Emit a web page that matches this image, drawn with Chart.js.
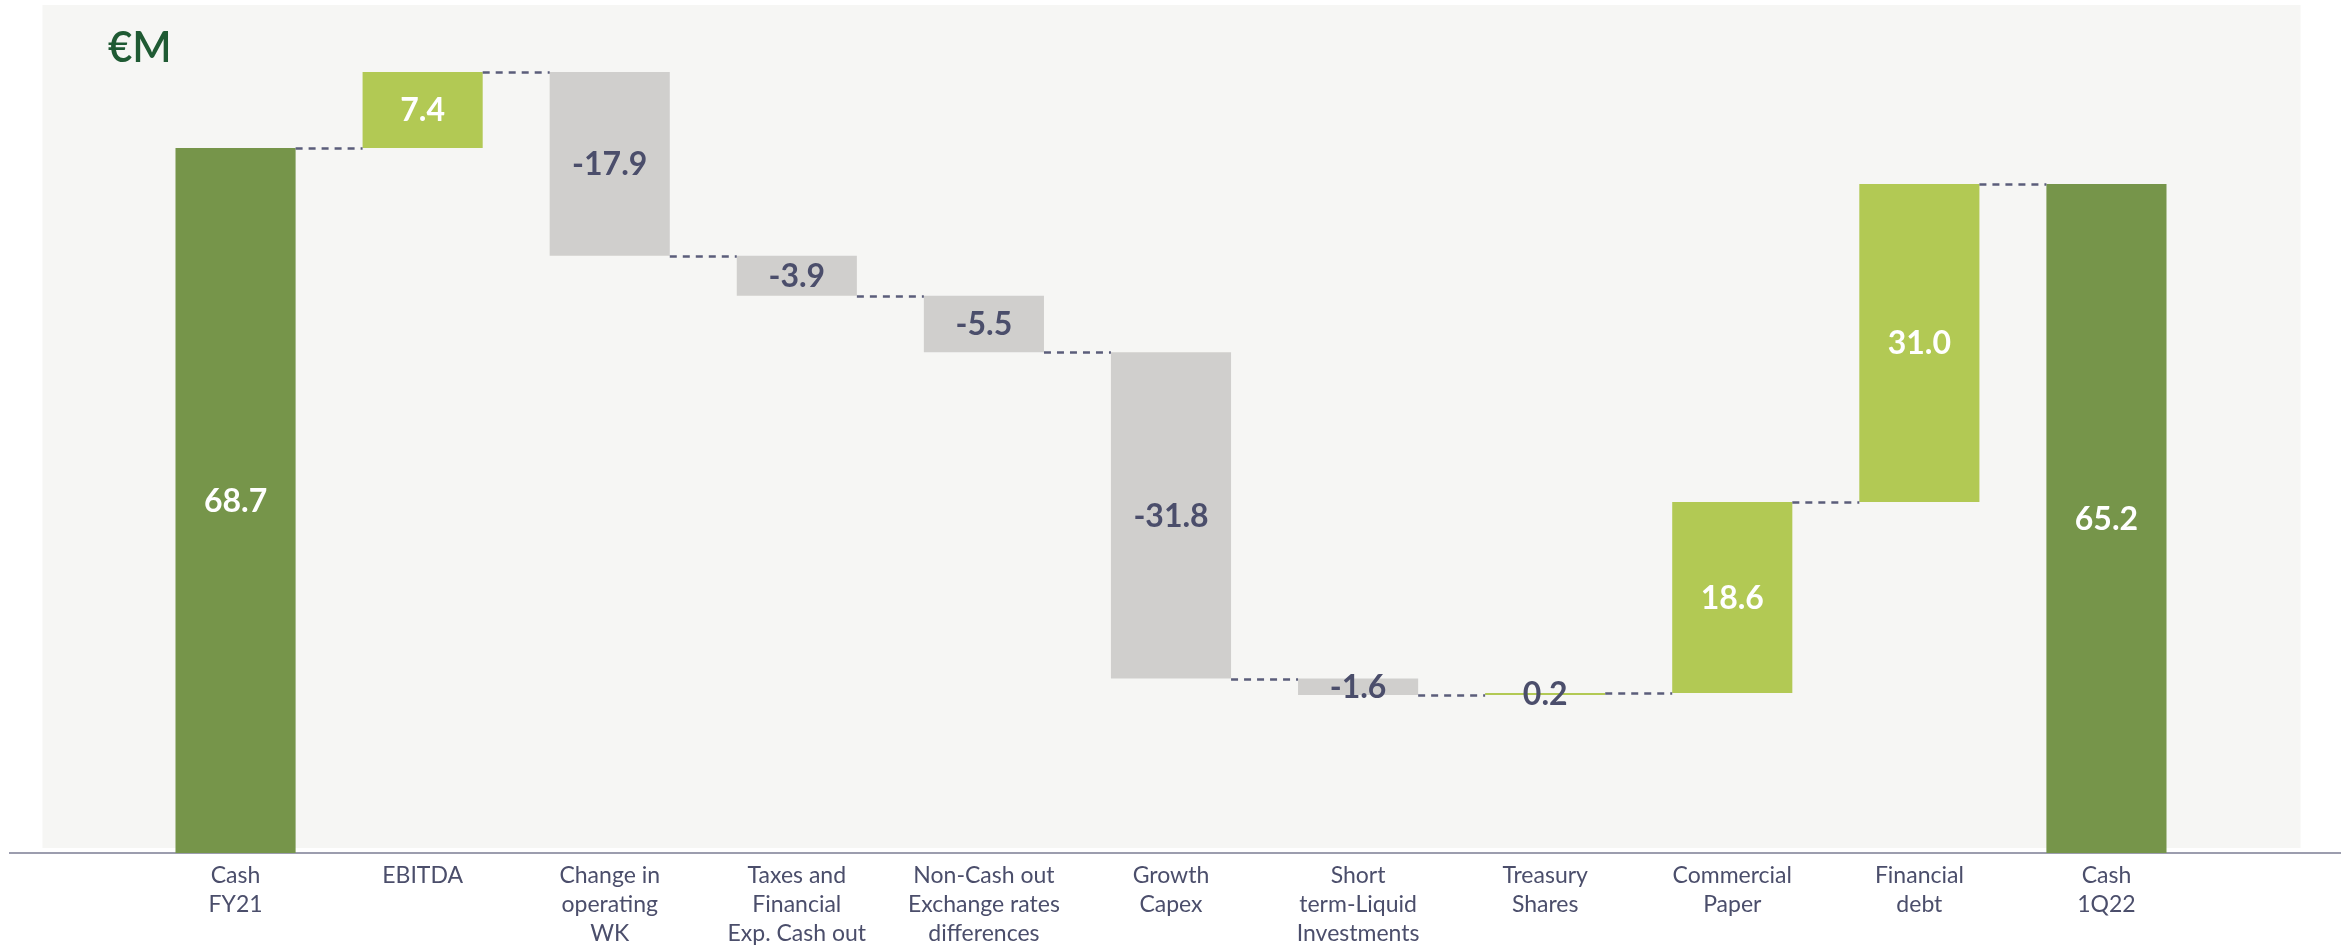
<!DOCTYPE html>
<html>
<head>
<meta charset="utf-8">
<script src="https://cdn.jsdelivr.net/npm/chart.js@4.4.0/dist/chart.umd.min.js"></script>
<style>
  html, body { margin: 0; padding: 0; background: #ffffff; }
  #wrap { width: 2341px; height: 951px; }
</style>
</head>
<body>
<div id="wrap"><canvas id="c" width="2341" height="951"></canvas></div>
<script>
// ---- data ----
const categories = [
  ["Cash", "FY21"],
  ["EBITDA"],
  ["Change in", "operating", "WK"],
  ["Taxes and", "Financial", "Exp. Cash out"],
  ["Non-Cash out", "Exchange rates", "differences"],
  ["Growth", "Capex"],
  ["Short", "term-Liquid", "Investments"],
  ["Treasury", "Shares"],
  ["Commercial", "Paper"],
  ["Financial", "debt"],
  ["Cash", "1Q22"]
];
const values = [68.7, 7.4, -17.9, -3.9, -5.5, -31.8, -1.6, 0.2, 18.6, 31.0, 65.2];
const kinds = ["total", "change", "change", "change", "change", "change", "change", "change", "change", "change", "total"];
const unitLabel = "€M";
const yMin = 0;
const yMax = 80;

// ---- styles ----
const COLOR_TOTAL = "#76954a";
const COLOR_UP = "#b2c954";
const COLOR_DOWN = "#d0cfcd";
const COLOR_PANEL = "#f6f6f4";
const COLOR_TEXT = "#4b4e6b";
const COLOR_DASH = "#5b5d7a";
const COLOR_AXIS = "#9c9dae";
const FONT = "Lato, 'Open Sans', 'DejaVu Sans', sans-serif";

// build floating ranges from the values
const ranges = [];
const ends = [];
let running = 0;
values.forEach((v, i) => {
  if (kinds[i] === "total") {
    ranges.push([0, v]);
    running = v;
  } else {
    ranges.push([running, running + v]);
    running = running + v;
  }
  ends.push(running);
});
const colors = values.map((v, i) => kinds[i] === "total" ? COLOR_TOTAL : (v >= 0 ? COLOR_UP : COLOR_DOWN));

const decorPlugin = {
  id: "decor",
  beforeDraw(chart) {
    const ctx = chart.ctx;
    const ca = chart.chartArea;
    ctx.save();
    ctx.fillStyle = "#ffffff";
    ctx.fillRect(0, 0, chart.width, chart.height);
    ctx.fillStyle = COLOR_PANEL;
    const left = ca.left - 99.5, right = ca.right + 100.5;
    ctx.fillRect(left, 5, right - left, ca.bottom - 5 - 5);
    ctx.restore();
  },
  beforeDatasetsDraw(chart) {
    const ctx = chart.ctx;
    const y = chart.scales.y.getPixelForValue(0);
    ctx.save();
    ctx.strokeStyle = COLOR_AXIS;
    ctx.lineWidth = 2;
    ctx.beginPath();
    ctx.moveTo(9, y);
    ctx.lineTo(chart.width, y);
    ctx.stroke();
    ctx.restore();
  },
  afterDatasetsDraw(chart) {
    const ctx = chart.ctx;
    const meta = chart.getDatasetMeta(0);
    const ys = chart.scales.y;
    ctx.save();
    // connectors
    ctx.strokeStyle = COLOR_DASH;
    ctx.lineWidth = 2.5;
    ctx.setLineDash([7, 6]);
    for (let i = 0; i < meta.data.length - 1; i++) {
      const a = meta.data[i], b = meta.data[i + 1];
      const y = Math.round(ys.getPixelForValue(ends[i])) + 0.5;
      ctx.beginPath();
      ctx.moveTo(a.x + a.width / 2, y);
      ctx.lineTo(b.x - b.width / 2, y);
      ctx.stroke();
    }
    ctx.setLineDash([]);
    // value labels
    ctx.textAlign = "center";
    ctx.textBaseline = "middle";
    ctx.font = "bold 32px " + FONT;
    meta.data.forEach((el, i) => {
      const yc = (ys.getPixelForValue(ranges[i][0]) + ys.getPixelForValue(ranges[i][1])) / 2;
      const h = Math.abs(ys.getPixelForValue(ranges[i][0]) - ys.getPixelForValue(ranges[i][1]));
      const light = colors[i] !== COLOR_DOWN && h > 34;
      ctx.fillStyle = light ? "#ffffff" : COLOR_TEXT;
      ctx.fillText(values[i].toFixed(1), el.x, yc + 1);
    });
    // unit label
    ctx.textAlign = "left";
    ctx.textBaseline = "alphabetic";
    ctx.font = "600 42px " + FONT;
    ctx.fillStyle = "#1f5a33";
    ctx.fillText(unitLabel, 108, 62);
    ctx.restore();
  }
};

new Chart(document.getElementById("c"), {
  type: "bar",
  data: {
    labels: categories,
    datasets: [{
      data: ranges,
      backgroundColor: colors,
      borderWidth: 0,
      borderSkipped: false,
      barPercentage: 0.642,
      categoryPercentage: 1.0
    }]
  },
  options: {
    responsive: false,
    devicePixelRatio: 1,
    animation: false,
    layout: { padding: { left: 142, right: 141, top: 32, bottom: 0 } },
    plugins: { legend: { display: false }, tooltip: { enabled: false }, title: { display: false } },
    scales: {
      x: {
        grid: { display: false, drawTicks: false },
        border: { display: false },
        ticks: {
          color: COLOR_TEXT,
          font: { family: FONT, size: 23, lineHeight: 1.27 },
          padding: 8,
          maxRotation: 0,
          autoSkip: false
        },
        afterFit(scale) { scale.height = 98; }
      },
      y: { display: false, min: yMin, max: yMax }
    }
  },
  plugins: [decorPlugin]
});
</script>
</body>
</html>
